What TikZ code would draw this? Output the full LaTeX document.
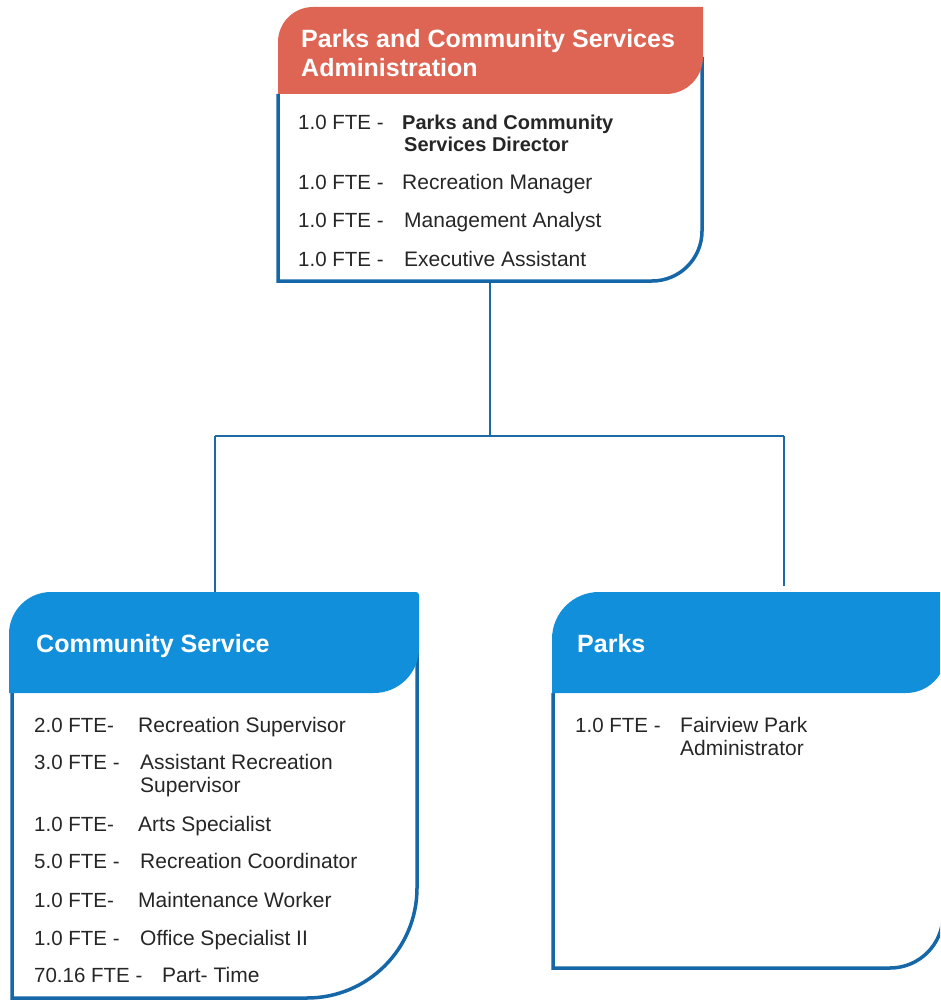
\documentclass[tikz,border=0pt]{standalone}
\usepackage{fontspec}
\setmainfont{Liberation Sans}
\definecolor{hdrred}{HTML}{DE6553}
\definecolor{hdrblue}{HTML}{128FDB}
\definecolor{outl}{HTML}{1667A8}
\definecolor{conn}{HTML}{1B6AA6}
\definecolor{txt}{HTML}{262626}
\tikzset{
  outline/.style={draw=outl, line width=3.5pt},
  connector/.style={draw=conn, line width=2pt},
  title/.style={anchor=base west, inner sep=0pt, text=white, font=\fontsize{25}{30}\selectfont\bfseries},
  body/.style={anchor=base west, inner sep=0pt, text=txt, font=\fontsize{20.5}{24}\selectfont},
  role/.style={anchor=base west, inner sep=0pt, text=txt, font=\fontsize{21}{24}\selectfont},
  bodybold/.style={anchor=base west, inner sep=0pt, text=txt, font=\fontsize{20}{24}\selectfont\bfseries},
}
\begin{document}
\begin{tikzpicture}[x=1pt,y=1pt]
\useasboundingbox (0,0) rectangle (940,-1000);
\clip (0,0) rectangle (940,-1000);

% ---------- connectors ----------
\coordinate (adminB) at (490,-281);
\coordinate (junc) at (490,-436);
\coordinate (jl) at (215,-436);
\coordinate (jr) at (784,-436);
\coordinate (commT) at (215,-592);
\coordinate (parksT) at (784,-586);
\draw[connector] (adminB) -- (junc);
\draw[connector] (jl) -- (jr);
\draw[connector] (jl) -- (commT);
\draw[connector] (jr) -- (parksT);

% ---------- top box ----------
\draw[outline] (278,-94) -- (278,-281) -- (652,-281) arc[start angle=-90,end angle=0,radius=50] -- (702,-57);
\fill[hdrred] (278,-94) -- (278,-42) arc[start angle=180,end angle=90,radius=35] -- (703,-7) -- (703,-57) arc[start angle=0,end angle=-90,radius=37] -- cycle;
\node[title] (t1) at (301,-48) {Parks and Community Services};
\node[title] (t2) at (301,-77) {Administration};
\node[body] (a1) at (298,-130) {1.0 FTE -};
\node[bodybold] (a1r) at (402,-130) {Parks and Community};
\node[bodybold] (a1r2) at (404,-152) {Services Director};
\node[body] (a2) at (298,-190) {1.0 FTE -};
\node[role] (a2r) at (402,-190) {Recreation Manager};
\node[body] (a3) at (298,-228) {1.0 FTE -};
\node[role] (a3r) at (404,-228) {Management Analyst};
\node[body] (a4) at (298,-266) {1.0 FTE -};
\node[role] (a4r) at (404,-266) {Executive Assistant};

% ---------- community service box ----------
\draw[outline] (12,-693) -- (12,-998) -- (307,-998) arc[start angle=-90,end angle=0,radius=110] -- (417,-650);
\fill[hdrblue] (9,-693) -- (9,-634) arc[start angle=180,end angle=90,radius=42] -- (416,-592) arc[start angle=90,end angle=0,radius=3] -- (419,-648) arc[start angle=0,end angle=-90,radius=45] -- cycle;
\node[title] (c0) at (36,-652) {Community Service};
\node[body] (c1) at (34,-732) {2.0 FTE-};
\node[role] (c1r) at (138,-732) {Recreation Supervisor};
\node[body] (c2) at (34,-769) {3.0 FTE -};
\node[role] (c2r) at (140,-769) {Assistant Recreation};
\node[role] (c2r2) at (140,-792) {Supervisor};
\node[body] (c3) at (34,-831) {1.0 FTE-};
\node[role] (c3r) at (138,-831) {Arts Specialist};
\node[body] (c4) at (34,-868) {5.0 FTE -};
\node[role] (c4r) at (140,-868) {Recreation Coordinator};
\node[body] (c5) at (34,-907) {1.0 FTE-};
\node[role] (c5r) at (138,-907) {Maintenance Worker};
\node[body] (c6) at (34,-945) {1.0 FTE -};
\node[role] (c6r) at (140,-945) {Office Specialist II};
\node[body] (c7) at (34,-982) {70.16 FTE -};
\node[role] (c7r) at (162,-982) {Part- Time};

% ---------- parks box ----------
\draw[outline] (553,-693) -- (553,-968) -- (890,-968) arc[start angle=-90,end angle=0,radius=53] -- (943,-660);
\fill[hdrblue] (552,-693) -- (552,-639) arc[start angle=180,end angle=90,radius=47] -- (946,-592) -- (946,-653) arc[start angle=0,end angle=-90,radius=40] -- cycle;
\node[title] (p0) at (577,-652) {Parks};
\node[body] (p1) at (575,-732) {1.0 FTE -};
\node[role] (p1r) at (680,-732) {Fairview Park};
\node[role] (p1r2) at (680,-755) {Administrator};
\end{tikzpicture}
\end{document}
